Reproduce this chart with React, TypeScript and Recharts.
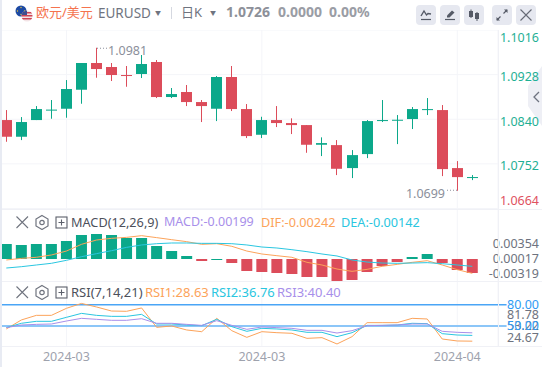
import React from 'react';
import { Bar, CartesianGrid, Cell, ComposedChart, Line, ReferenceLine, XAxis, YAxis } from 'recharts';

const opens = [1.08384, 1.08055, 1.08384, 1.08581, 1.08607, 1.08982, 1.09509, 1.0943, 1.09272, 1.09292, 1.09529, 1.08838, 1.08937, 1.08739, 1.08607, 1.09233, 1.08601, 1.08094, 1.08384, 1.08325, 1.08285, 1.07897, 1.0789, 1.07437, 1.07713, 1.08364, 1.08384, 1.08404, 1.08595, 1.08581, 1.07437, 1.07259];
const closes = [1.08055, 1.08345, 1.08601, 1.0859, 1.08996, 1.09509, 1.09390, 1.09272, 1.09266, 1.09489, 1.08838, 1.08897, 1.08739, 1.08660, 1.09233, 1.08601, 1.08068, 1.08384, 1.08325, 1.08285, 1.07897, 1.0793, 1.07423, 1.07693, 1.08364, 1.08384, 1.08390, 1.08601, 1.08600, 1.07417, 1.07259, 1.07260];
const highs = [1.08581, 1.08443, 1.08660, 1.08779, 1.09173, 1.09509, 1.09810, 1.09509, 1.0945, 1.09667, 1.09568, 1.09016, 1.09075, 1.08779, 1.09252, 1.0945, 1.087, 1.08449, 1.0866, 1.08418, 1.08285, 1.08043, 1.07989, 1.07792, 1.08384, 1.08779, 1.08483, 1.08641, 1.08818, 1.0868, 1.07575, 1.07299];
const lows = [1.07956, 1.07989, 1.08384, 1.0841, 1.0843, 1.08706, 1.09219, 1.09154, 1.09041, 1.09213, 1.08818, 1.08818, 1.0866, 1.08345, 1.08364, 1.08562, 1.08029, 1.08029, 1.08246, 1.08108, 1.07739, 1.07674, 1.07299, 1.0724, 1.07634, 1.08345, 1.0791, 1.08207, 1.08483, 1.07279, 1.0699, 1.072];

const macdBars = [0.00213, 0.00199, 0.00213, 0.00213, 0.00255, 0.0034, 0.00354, 0.0034, 0.00298, 0.00298, 0.00184, 0.00113, 0.00043, -0.00028, -0.00014, -0.00057, -0.0017, -0.00184, -0.00199, -0.00213, -0.00255, -0.00255, -0.00319, -0.00298, -0.00184, -0.00099, -0.00043, 0.00028, 0.00071, -0.00057, -0.00156, -0.00199];
const difLine = [-0.00014, 0.00009, 0.00024, 0.00057, 0.00113, 0.00208, 0.00269, 0.00293, 0.00307, 0.00331, 0.00303, 0.00274, 0.00246, 0.00208, 0.00217, 0.0018, 0.00113, 0.00071, 0.00047, 0.00024, -0.00047, -0.00085, -0.00142, -0.00175, -0.00147, -0.00104, -0.00076, -0.00047, -0.00024, -0.00085, -0.00151, -0.00203];
const deaLine = [-0.00128, -0.00109, -0.00085, -0.00061, -0.00019, 0.00033, 0.00076, 0.00118, 0.00165, 0.00199, 0.00217, 0.00227, 0.00227, 0.00222, 0.00222, 0.00217, 0.00199, 0.0017, 0.00156, 0.00132, 0.00104, 0.00071, 0.00043, -0.00014, -0.00043, -0.00057, -0.00061, -0.00057, -0.00052, -0.00066, -0.00085, -0.00104];

const rsi1 = [45.8, 58.5, 65, 65, 74.9, 81.78, 76.8, 71.1, 70.7, 75.4, 48.1, 50, 44.4, 42, 60.8, 43.4, 34, 42, 40.6, 39.7, 32.6, 33.6, 24.67, 35, 54.7, 54.7, 54.7, 60.8, 59.9, 31.7, 28.9, 28.63];
const rsi2 = [47.7, 53.8, 56.6, 56.6, 62.2, 67.8, 65, 63.6, 63.6, 66.4, 52.8, 52.8, 51.4, 50.5, 59.4, 49.1, 42.5, 46.7, 45.8, 44.4, 41.1, 41.1, 35, 40.6, 50.9, 50.9, 51.4, 53.8, 53.3, 39.2, 37.3, 36.76];
const rsi3 = [47.7, 51.4, 52.3, 52.8, 57, 60.8, 59.4, 58, 58, 60.3, 53.8, 53.8, 52.3, 50.9, 57.5, 50.9, 45.3, 48.6, 47.7, 46.7, 43.9, 43.9, 40.1, 43.4, 50.5, 50.9, 51.4, 52.8, 52.8, 42.5, 41.1, 40.4];

const priceTicks = [1.1016, 1.0928, 1.084, 1.0752, 1.0664];
const macdTicks = [0.00354, 0.00017, -0.00319];
const rsiTicks = [81.78, 80, 53.22, 50, 24.67];
const rsiLevels = [80, 50];
const dateTicks = [4, 17, 30];
const dateLabels = ['2024-03', '2024-03', '2024-04'];
const lastClose = 1.0726;

const GREEN = '#0ba88a';
const RED = '#dc4c5a';
const ORANGE = '#fca35a';
const CYAN = '#2ac6e0';
const PURPLE = '#a88fea';
const GRID = '#f4f5f9';
const GREY = '#6e7380';
const FONT = '"Noto Sans", "Noto Sans CJK SC", sans-serif';

const xDomain = [-0.42, 32.71];

const candles = opens.map((open, i) => ({ i, open, close: closes[i], high: highs[i], low: lows[i] }));
const macdRows = macdBars.map((macd, i) => ({ i, macd, dif: difLine[i], dea: deaLine[i] }));
const rsiRows = rsi1.map((r1, i) => ({ i, r1, r2: rsi2[i], r3: rsi3[i] }));

const maxHigh = Math.max(...highs);
const minLow = Math.min(...lows);

const Candle = (props: any) => {
  const { x, y, width, height, payload } = props;
  const { open, close, high, low } = payload;
  const color = close >= open ? GREEN : RED;
  const perUnit = height / (high - low);
  const bodyTop = y + (high - Math.max(open, close)) * perUnit;
  const bodyH = Math.max(1, Math.abs(open - close) * perUnit);
  const wick = Math.floor(x + width / 2);
  return (
    <g>
      <rect x={wick} y={y} width={1} height={height} fill={color} />
      <rect x={wick - 5} y={bodyTop} width={11} height={bodyH} fill={color} />
      {high === maxHigh && (
        <g>
          <line x1={wick + 1} x2={wick + 11} y1={y + 0.5} y2={y + 0.5} stroke="#8b8f9b" strokeDasharray="1 2" />
          <text x={wick + 12} y={y + 3} fontSize={12.5} fontFamily={FONT} fill="#8b8f9b" dominantBaseline="central">{high.toFixed(4)}</text>
        </g>
      )}
      {low === minLow && (
        <g>
          <line x1={wick} x2={wick - 11} y1={y + height - 0.5} y2={y + height - 0.5} stroke="#8b8f9b" strokeDasharray="1 2" />
          <text x={wick - 12} y={y + height + 3} fontSize={12.5} fontFamily={FONT} fill="#8b8f9b" textAnchor="end" dominantBaseline="central">{low.toFixed(4)}</text>
        </g>
      )}
    </g>
  );
};

const axisText = (y: number, label: string, fill: string) => (
  <text x={539} y={y} textAnchor="end" dominantBaseline="central" fontSize={12.5} fontFamily={FONT} fill={fill}>{label}</text>
);

const PriceTick = (props: any) => {
  const v = props.payload.value;
  const y = Math.min(170, Math.max(7, props.y + 2));
  return axisText(y, v.toFixed(4), v < lastClose ? '#e0525f' : '#1fb095');
};

const MacdTick = (props: any) => {
  const y = Math.min(64, Math.max(34, props.y + 1));
  return axisText(y, props.payload.value.toFixed(5), GREY);
};

const RsiTick = (props: any) => {
  const v = props.payload.value;
  if (rsiLevels.includes(v)) return axisText(props.y, v.toFixed(2), '#2f9bf4');
  const y = Math.min(56, Math.max(33, props.y + 2));
  return axisText(y, v.toFixed(2), GREY);
};

const abs = (left: number, top: number, extra: React.CSSProperties = {}): React.CSSProperties => ({
  position: 'absolute', left, top, whiteSpace: 'nowrap', fontFamily: FONT, lineHeight: '18px', ...extra,
});

const Btn = ({ left, children }: { left: number; children: React.ReactNode }) => (
  <div style={{ position: 'absolute', left, top: 5, width: 20, height: 20, borderRadius: 4, background: '#e6e8f0' }}>
    <svg width={20} height={20} viewBox="0 0 20 20">{children}</svg>
  </div>
);

const PaneIcons = ({ top }: { top: number }) => (
  <svg width={66} height={16} style={{ position: 'absolute', left: 15, top }}>
    <path d="M1.5 2.5 L13 14 M13 2.5 L1.5 14" stroke="#70747f" strokeWidth={1.1} fill="none" />
    <path d="M27 1.5 L33 5 V12 L27 15.5 L21 12 V5 Z" stroke="#70747f" strokeWidth={1.2} fill="none" />
    <circle cx={27} cy={8.5} r={2.2} stroke="#70747f" strokeWidth={1.2} fill="none" />
    <rect x={41} y={3} width={11} height={11} stroke="#5c606b" strokeWidth={1.1} fill="none" />
    <path d="M43.5 8.5 H49.5 M46.5 5.5 V11.5" stroke="#5c606b" strokeWidth={1.1} />
  </svg>
);

export default function App() {
  return (
    <div style={{ position: 'absolute', left: 0, top: 0, width: 542, height: 367, overflow: 'hidden', background: '#fff' }}>
      {/* header */}
      <svg width={36} height={26} style={{ position: 'absolute', left: 12, top: 3 }}>
        <defs>
          <clipPath id="us"><circle cx={15} cy={13} r={5.5} /></clipPath>
        </defs>
        <circle cx={9} cy={8} r={5.5} fill="#1d4aa3" />
        <circle cx={9} cy={4.5} r={0.7} fill="#e9c63b" />
        <circle cx={5.5} cy={8} r={0.7} fill="#e9c63b" />
        <circle cx={12.5} cy={8} r={0.7} fill="#e9c63b" />
        <circle cx={9} cy={11.5} r={0.7} fill="#e9c63b" />
        <g clipPath="url(#us)">
          <rect x={9} y={7} width={12} height={12} fill="#f3e4e6" />
          <rect x={9} y={9} width={12} height={1.5} fill="#cf4453" />
          <rect x={9} y={12} width={12} height={1.5} fill="#cf4453" />
          <rect x={9} y={15} width={12} height={1.5} fill="#cf4453" />
          <rect x={9} y={7} width={6} height={5} fill="#3f4f8f" />
        </g>
      </svg>
      <div style={abs(36, 3, { fontSize: 13, color: '#f5734e' })}>欧元/美元</div>
      <div style={abs(98, 4, { fontSize: 13.5, color: '#6f7480' })}>EURUSD</div>
      <div style={abs(155, 4, { fontSize: 6, color: '#6f7480' })}>▼</div>
      <div style={{ position: 'absolute', left: 171, top: 7, width: 1, height: 12, background: '#d5d8e0' }} />
      <div style={abs(181, 3, { fontSize: 13, color: '#6f7480' })}>日K</div>
      <div style={abs(210, 4, { fontSize: 6, color: '#6f7480' })}>▼</div>
      <div style={abs(226, 3, { fontSize: 14, fontWeight: 700, color: '#8d9099' })}>1.0726</div>
      <div style={abs(278, 3, { fontSize: 14, fontWeight: 700, color: '#9a9da5' })}>0.0000</div>
      <div style={abs(329, 3, { fontSize: 14, fontWeight: 700, color: '#9a9da5' })}>0.00%</div>
      <Btn left={416}>
        <path d="M5 11 L8 6 L10.5 10 L12 8.5 L15 9" stroke="#555a66" strokeWidth={1.4} fill="none" />
        <path d="M5 14.5 H15" stroke="#555a66" strokeWidth={1.2} />
      </Btn>
      <Btn left={440}>
        <path d="M7 10.5 L12 5.5 L14.5 7.5 L9.5 12.5 H7 Z" fill="#555a66" />
        <path d="M5 14.5 H15" stroke="#555a66" strokeWidth={1.2} />
      </Btn>
      <Btn left={464}>
        <path d="M7 4.5 V13 M13 7 V16" stroke="#555a66" strokeWidth={1} />
        <rect x={5} y={6} width={4} height={6} fill="#555a66" />
        <rect x={11} y={8} width={4} height={6} fill="#555a66" />
      </Btn>
      <Btn left={492}>
        <path d="M11.5 8.5 L15 5 M8.5 11.5 L5 15" stroke="#555a66" strokeWidth={1.2} />
        <path d="M12 4.5 H15.5 V8 L12 4.5 Z M8 15.5 H4.5 V12 L8 15.5 Z" fill="#555a66" />
      </Btn>
      <Btn left={516}>
        <path d="M4.5 4.5 L15.5 15.5 M15.5 4.5 L4.5 15.5" stroke="#666a75" strokeWidth={1.1} />
      </Btn>

      {/* side tab sits under the axis text */}
      <svg width={16} height={64} style={{ position: 'absolute', left: 526, top: 64 }}>
        <path d="M16 2 L2 22 V42 L16 62 Z" fill="#eeeff5" />
        <path d="M13 28 L8 33 L13 38" stroke="#6e7380" strokeWidth={1.3} fill="none" />
      </svg>

      {/* candles */}
      <div style={{ position: 'absolute', left: 0, top: 30 }}>
        <ComposedChart width={542} height={179} data={candles} margin={{ top: 0, right: 0, bottom: 0, left: 0 }}>
          <CartesianGrid stroke={GRID} />
          <XAxis hide type="number" dataKey="i" domain={xDomain} ticks={dateTicks} allowDataOverflow />
          <YAxis orientation="right" width={44} domain={[1.0663, 1.1016]} ticks={priceTicks} interval={0} allowDataOverflow axisLine={false} tickLine={false} tick={PriceTick} />
          <Bar dataKey={(d: any) => [d.low, d.high]} barSize={11} shape={Candle} isAnimationActive={false} />
        </ComposedChart>
      </div>

      {/* macd */}
      <div style={{ position: 'absolute', left: 0, top: 209 }}>
        <ComposedChart width={542} height={72.5} data={macdRows} margin={{ top: 0, right: 0, bottom: 0, left: 0 }}>
          <CartesianGrid stroke={GRID} horizontal={false} />
          <XAxis hide type="number" dataKey="i" domain={xDomain} ticks={dateTicks} allowDataOverflow />
          <YAxis orientation="right" width={44} domain={[-0.00319, 0.00709]} ticks={macdTicks} interval={0} allowDataOverflow axisLine={false} tickLine={false} tick={MacdTick} />
          <Bar dataKey="macd" barSize={11} isAnimationActive={false}>
            {macdBars.map((v, i) => (
              <Cell key={i} fill={v > -0.0002 ? GREEN : RED} />
            ))}
          </Bar>
          <Line dataKey="dif" type="linear" stroke={ORANGE} strokeWidth={1} dot={false} isAnimationActive={false} />
          <Line dataKey="dea" type="linear" stroke={CYAN} strokeWidth={1} dot={false} isAnimationActive={false} />
        </ComposedChart>
      </div>

      {/* rsi */}
      <div style={{ position: 'absolute', left: 0, top: 281 }}>
        <ComposedChart width={542} height={86} data={rsiRows} margin={{ top: 0, right: 0, bottom: 0, left: 0 }}>
          <CartesianGrid stroke={GRID} horizontal={false} />
          <XAxis type="number" dataKey="i" domain={xDomain} ticks={dateTicks} interval={0} allowDataOverflow height={21} axisLine={false} tickLine={false} tick={{ fontSize: 12.5, fill: '#9ea2ad', fontFamily: FONT, dy: -2 }} tickFormatter={(v: number) => dateLabels[dateTicks.indexOf(v)]} />
          <YAxis orientation="right" width={44} domain={[21.83, 113.38]} ticks={rsiTicks} interval={0} allowDataOverflow axisLine={false} tickLine={false} tick={RsiTick} />
          <ReferenceLine segment={[{ x: -0.42, y: rsiLevels[0] }, { x: 33.28, y: rsiLevels[0] }]} ifOverflow="visible" stroke="#4aa5f6" strokeWidth={1.5} />
          <ReferenceLine segment={[{ x: -0.42, y: rsiLevels[1] }, { x: 33.28, y: rsiLevels[1] }]} ifOverflow="visible" stroke="#8cc6f8" strokeWidth={2} />
          <Line dataKey="r1" type="linear" stroke={ORANGE} strokeWidth={1} dot={false} isAnimationActive={false} />
          <Line dataKey="r2" type="linear" stroke={CYAN} strokeWidth={1} dot={false} isAnimationActive={false} />
          <Line dataKey="r3" type="linear" stroke={PURPLE} strokeWidth={1} dot={false} isAnimationActive={false} />
        </ComposedChart>
      </div>

      {/* frame */}
      <div style={{ position: 'absolute', left: 0, top: 0, width: 2, height: 367, background: '#e8ebf3' }} />
      <div style={{ position: 'absolute', left: 498, top: 30, width: 1, height: 316, background: '#f0f1f6' }} />
      <div style={{ position: 'absolute', left: 2, top: 209, width: 540, height: 1, background: '#f0f1f6' }} />
      <div style={{ position: 'absolute', left: 2, top: 281, width: 540, height: 1, background: '#f0f1f6' }} />
      <div style={{ position: 'absolute', left: 2, top: 346, width: 540, height: 1, background: '#f0f1f6' }} />

      {/* pane legends */}
      <PaneIcons top={214} />
      <div style={abs(71, 213, { fontSize: 12.7, color: '#4c505b' })}>MACD(12,26,9)</div>
      <div style={abs(164, 213, { fontSize: 12.5, color: PURPLE })}>MACD:-0.00199</div>
      <div style={abs(261, 213, { fontSize: 12.7, color: ORANGE })}>DIF:-0.00242</div>
      <div style={abs(341, 213, { fontSize: 12.7, color: CYAN })}>DEA:-0.00142</div>
      <PaneIcons top={284} />
      <div style={abs(71, 283, { fontSize: 13, color: '#4c505b' })}>RSI(7,14,21)</div>
      <div style={abs(145, 283, { fontSize: 13, color: ORANGE })}>RSI1:28.63</div>
      <div style={abs(211, 283, { fontSize: 13, color: CYAN })}>RSI2:36.76</div>
      <div style={abs(277, 283, { fontSize: 13, color: PURPLE })}>RSI3:40.40</div>
    </div>
  );
}
